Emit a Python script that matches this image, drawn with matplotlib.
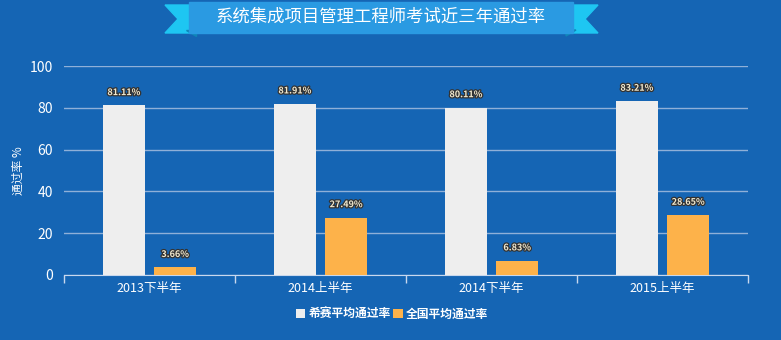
import matplotlib.pyplot as plt
import matplotlib.patheffects as pe
from matplotlib.patches import Polygon, Rectangle
import numpy as np

plt.rcParams['font.family'] = ['Noto Sans CJK SC', 'DejaVu Sans']

periods = ['2013下半年', '2014上半年', '2014下半年', '2015上半年']
xisai = [81.11, 81.91, 80.11, 83.21]
national = [3.66, 27.49, 6.83, 28.65]
series_names = ['希赛平均通过率', '全国平均通过率']

bg = '#1565b4'
W, H = 781, 340
fig = plt.figure(figsize=(W / 100, H / 100), dpi=100, facecolor=bg)

def px(x, y):
    return (x / W, 1 - y / H)

# title ribbon
tail = '#1ec6f2'
fig.patches.append(Polygon([px(165, 5), px(196, 5), px(196, 33), px(165, 33), px(178, 19)],
                           closed=True, color=tail, transform=fig.transFigure))
fig.patches.append(Polygon([px(566, 5), px(598, 5), px(585, 19), px(598, 33), px(566, 33)],
                           closed=True, color=tail, transform=fig.transFigure))
fig.patches.append(Polygon([px(186, 30), px(196, 30), px(196, 36)], closed=True,
                           color='#0f86b8', transform=fig.transFigure))
fig.patches.append(Polygon([px(566, 30), px(576, 30), px(566, 36)], closed=True,
                           color='#0f86b8', transform=fig.transFigure))
x0, y0 = px(189, 33)
fig.patches.append(Rectangle((x0, y0), (573 - 189) / W, 31 / H, color='#2a9ae2',
                             transform=fig.transFigure))
fig.text(381 / W, 1 - 17 / H, '系统集成项目管理工程师考试近三年通过率', color='white',
         fontsize=12.5, ha='center', va='center')

ax = fig.add_axes([64 / W, 1 - 275 / H, (748 - 64) / W, (275 - 66) / H])
ax.set_facecolor(bg)

x = np.arange(len(periods))
w = 0.245
off = 0.15
b1 = ax.bar(x - off, xisai, w, color='#eeeeee', zorder=3)
b2 = ax.bar(x + off, national, w, color='#fdb24a', zorder=3)

for bars, vals in ((b1, xisai), (b2, national)):
    for r, v in zip(bars, vals):
        ax.text(r.get_x() + r.get_width() / 2, v + 4, f'{v:.2f}%', ha='center', va='bottom',
                fontsize=6.5, fontweight='bold', color='#f2ead0',
                path_effects=[pe.withStroke(linewidth=1.8, foreground='#333333')], zorder=4)

ax.set_xlim(-0.5, 3.5)
ax.set_ylim(0, 100)
ax.set_yticks(range(0, 101, 20))
ax.yaxis.grid(True, color='#8fb0d8', linewidth=1, zorder=1)
ax.set_xticks(x)
ax.set_xticklabels(periods)
ax.set_xticks(np.arange(-0.5, 4, 1), minor=True)
ax.tick_params(axis='x', which='major', length=0, colors='white', labelsize=9, pad=5)
ax.tick_params(axis='x', which='minor', length=6, color='#c8d8ee', width=1)
ax.tick_params(axis='y', length=0, colors='white', labelsize=10, pad=8)
for s in ('top', 'right', 'left'):
    ax.spines[s].set_visible(False)
ax.spines['bottom'].set_color('#c8d8ee')
ax.set_ylabel('通过率 %', color='white', fontsize=8.5)
ax.yaxis.set_label_coords(-39 / 684, 0.5)

leg = fig.legend([b1, b2], series_names, loc='center', bbox_to_anchor=(392 / W, 1 - 314 / H),
                 ncol=2, frameon=False, fontsize=8.5, handlelength=0.8, handleheight=0.8,
                 handletextpad=0.3, columnspacing=0.2)
for t in leg.get_texts():
    t.set_color('white')
    t.set_fontweight('bold')

fig.savefig('out.png', dpi=100, facecolor=bg)
